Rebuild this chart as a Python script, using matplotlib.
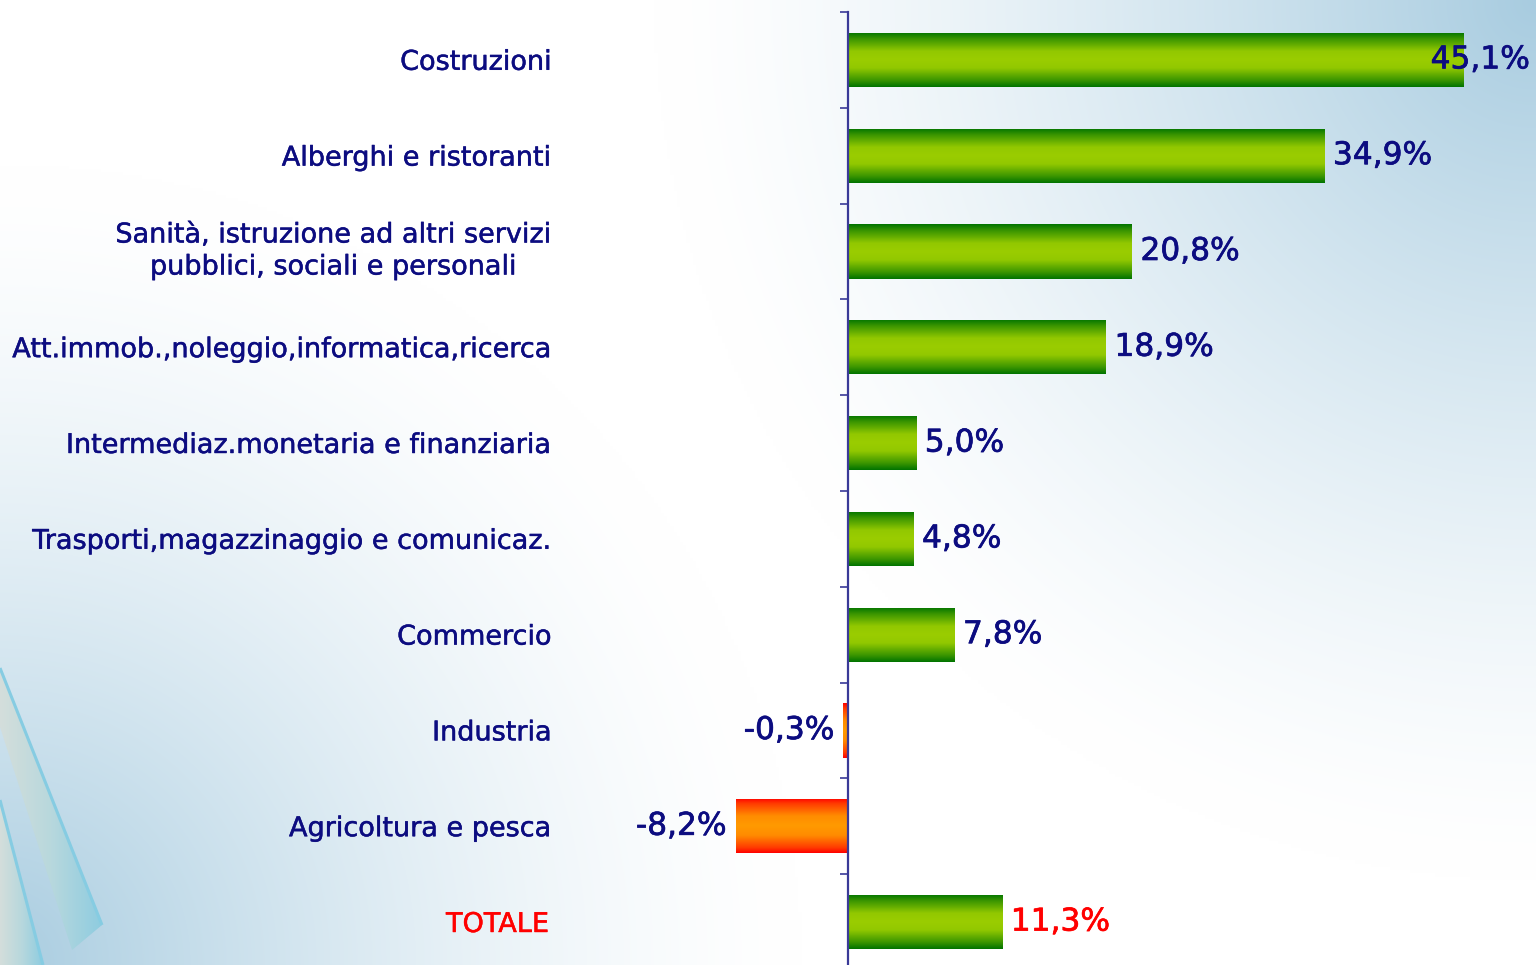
import numpy as np
import matplotlib
matplotlib.use('Agg')
import matplotlib.pyplot as plt
import matplotlib.patheffects as pe
from matplotlib.colors import LinearSegmentedColormap, to_rgb
from matplotlib.patches import Polygon
from matplotlib.transforms import blended_transform_factory

# ---------------- data ----------------
categories = [
    "Costruzioni",
    "Alberghi e ristoranti",
    "Sanità, istruzione ad altri servizi\npubblici, sociali e personali",
    "Att.immob.,noleggio,informatica,ricerca",
    "Intermediaz.monetaria e finanziaria",
    "Trasporti,magazzinaggio e comunicaz.",
    "Commercio",
    "Industria",
    "Agricoltura e pesca",
    "TOTALE",
]
values = [45.1, 34.9, 20.8, 18.9, 5.0, 4.8, 7.8, -0.3, -8.2, 11.3]
value_labels = ["45,1%", "34,9%", "20,8%", "18,9%", "5,0%", "4,8%",
                "7,8%", "-0,3%", "-8,2%", "11,3%"]
highlight = "TOTALE"

# ---------------- style ----------------
W, H, DPI = 1536, 965, 100
NAVY = "#0c0c80"
RED = "#ff0000"
AXIS = "#3a3a98"
FONT = "DejaVu Sans"

fig = plt.figure(figsize=(W / DPI, H / DPI), dpi=DPI)

# ---------------- background ----------------
bg = fig.add_axes([0, 0, 1, 1], zorder=-10)
bg.set_xlim(0, W)
bg.set_ylim(H, 0)
bg.axis("off")
PX, PY = np.meshgrid(np.linspace(0, W, 480), np.linspace(0, H, 300))
d_tr = np.hypot(W - PX, PY)
d_bl = np.hypot(PX, H - PY)
w_tr = np.clip(1 - d_tr / 880.0, 0, 1) ** 1.4
w_bl = np.clip(1 - d_bl / 800.0, 0, 1) ** 1.5
w = np.maximum(w_tr, w_bl)
blue = np.array(to_rgb("#a8cce0"))
base = np.array(to_rgb("#ffffff"))
img = (1 - w)[..., None] * base + w[..., None] * blue
bg.imshow(img, extent=[0, W, H, 0], aspect="auto", interpolation="bilinear")

# decorative swooshes (bottom-left)
deco_cmap = LinearSegmentedColormap.from_list("deco", ["#d4dedb", "#b8d8dd", "#8ecce0"])
hgrad = np.linspace(0, 1, 256)[None, :]
shapeA = Polygon([(0, 668), (102, 925), (72, 950), (0, 727)], closed=True,
                 facecolor="none", edgecolor="none")
bg.add_patch(shapeA)
imA = bg.imshow(hgrad, cmap=deco_cmap, extent=[0, 102, 965, 660], aspect="auto")
imA.set_clip_path(shapeA)
bg.plot([0, 102], [668, 925], color="#86cce2", lw=2.2, solid_capstyle="butt")
shapeB = Polygon([(0, 800), (43, 965), (0, 965)], closed=True,
                 facecolor="none", edgecolor="none")
bg.add_patch(shapeB)
imB = bg.imshow(hgrad, cmap=deco_cmap, extent=[0, 43, 965, 800], aspect="auto")
imB.set_clip_path(shapeB)
bg.plot([0, 43], [800, 965], color="#86cce2", lw=2.2, solid_capstyle="butt")

# ---------------- main axes ----------------
px_per_unit = 13.65
zero_px = 847.5
ax_left, ax_right = 600, W
ax_top, ax_bottom = 12, 970
ax = fig.add_axes([ax_left / W, (H - ax_bottom) / H,
                   (ax_right - ax_left) / W, (ax_bottom - ax_top) / H])
ax.set_facecolor("none")

n = len(categories)
ypos = np.arange(n)
bar_h = 0.565

green_cmap = LinearSegmentedColormap.from_list(
    "g", [(0, "#9acd00"), (0.3, "#92c800"), (0.75, "#3c9600"), (1.0, "#007300")])
red_cmap = LinearSegmentedColormap.from_list(
    "r", [(0, "#ff9a00"), (0.35, "#ff8c00"), (0.8, "#ff3c00"), (1.0, "#ff0000")])
vgrad = np.abs(np.linspace(-1, 1, 256))[:, None]

bars = ax.barh(ypos, values, height=bar_h, color="none", edgecolor="none", zorder=2)
for bar, v in zip(bars, values):
    x0, x1 = min(0, v), max(0, v)
    yc = bar.get_y() + bar.get_height() / 2
    im = ax.imshow(vgrad, cmap=green_cmap if v >= 0 else red_cmap,
                   extent=[x0, x1, yc + bar_h / 2, yc - bar_h / 2],
                   aspect="auto", interpolation="bilinear", zorder=2)
    im.set_clip_path(bar)

ax.set_xlim((ax_left - zero_px) / px_per_unit, (ax_right - zero_px) / px_per_unit)
ax.set_ylim(n - 0.5, -0.5)

for s in ["top", "right", "bottom"]:
    ax.spines[s].set_visible(False)
ax.spines["left"].set_position(("data", 0))
ax.spines["left"].set_color(AXIS)
ax.spines["left"].set_linewidth(1.6)
ax.spines["left"].set_zorder(3)
ax.set_xticks([])
ax.set_yticks(np.arange(-0.5, n, 1.0))
ax.tick_params(axis="y", direction="out", length=5.8, width=1.2, color=AXIS,
               labelleft=False)

# category labels
tr = blended_transform_factory(fig.transFigure, ax.transData)
for yy, cat in zip(ypos, categories):
    is_tot = cat == highlight
    col = RED if is_tot else NAVY
    ax.text((549 if is_tot else 552) / W, yy + (0.0 if "\n" in cat else 0.03), cat,
            transform=tr, ha="right", va="center", multialignment="center",
            fontsize=19.5, color=col, family=FONT, linespacing=1.3,
            path_effects=[pe.withStroke(linewidth=0.35, foreground=col)])

# value labels
anns = []
for yy, v, lbl, cat in zip(ypos, values, value_labels, categories):
    col = RED if cat == highlight else NAVY
    off = 6.5 if v >= 0 else -6.5
    a = ax.annotate(lbl, xy=(v, yy), xytext=(off, 0), textcoords="offset points",
                    ha="left" if v >= 0 else "right", va="center",
                    fontsize=22.5, color=col, family=FONT, zorder=4,
                    annotation_clip=False,
                    path_effects=[pe.withStroke(linewidth=0.5, foreground=col)])
    anns.append(a)

# keep labels inside the figure
fig.canvas.draw()
renderer = fig.canvas.get_renderer()
for a in anns:
    bb = a.get_window_extent(renderer)
    limit = W - 6
    if bb.x1 > limit:
        shift_pt = (bb.x1 - limit) * 72.0 / DPI
        ox, oy = a.xyann
        a.xyann = (ox - shift_pt, oy)

fig.savefig("out.png", dpi=DPI)
